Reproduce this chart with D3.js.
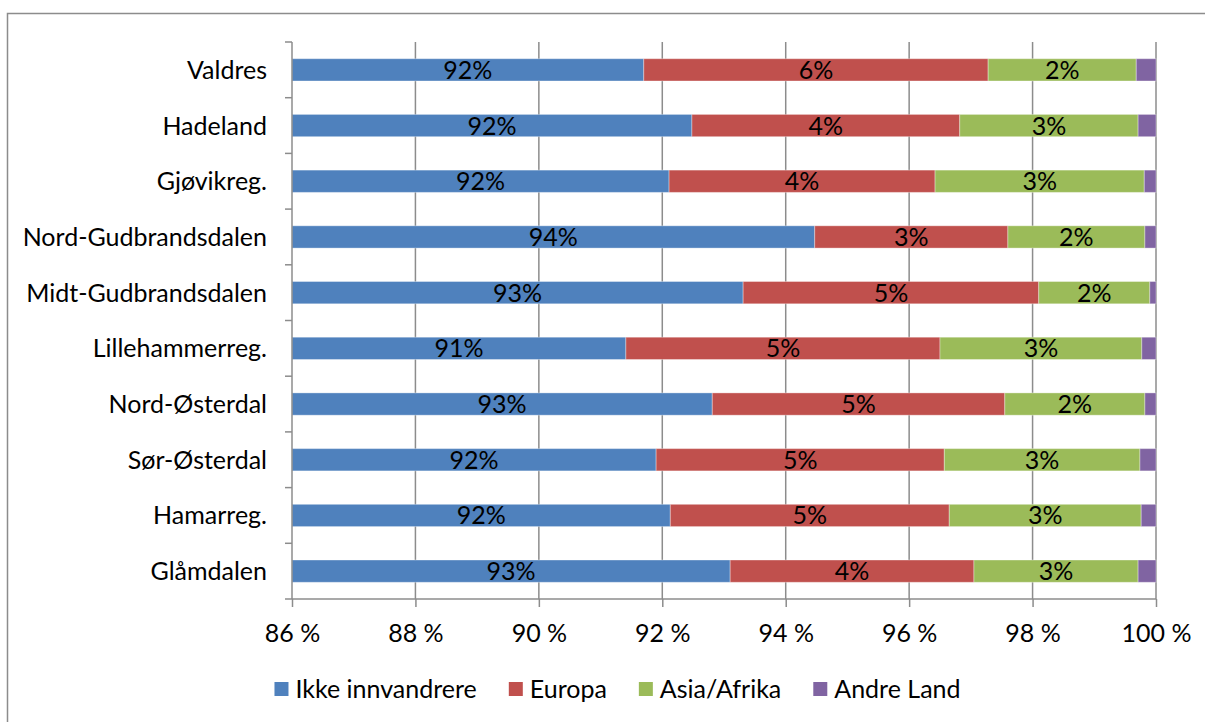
<!DOCTYPE html>
<html>
<head>
<meta charset="utf-8">
<script src="https://cdn.jsdelivr.net/npm/d3@7"></script>
<style>
  body { margin: 0; background: #fff; }
  svg text { font-family: Lato, "Open Sans", sans-serif; font-size: 25px; fill: #000; }
  .grid line { stroke: #8c8c8c; stroke-width: 1.5; }
  .axis path, .axis line { stroke: #8c8c8c; stroke-width: 1.5; }
</style>
</head>
<body>
<svg class="bar-chart-svg" width="1205" height="722"></svg>
<script>
const regions = ['Valdres', 'Hadeland', 'Gjøvikreg.', 'Nord-Gudbrandsdalen', 'Midt-Gudbrandsdalen',
  'Lillehammerreg.', 'Nord-Østerdal', 'Sør-Østerdal', 'Hamarreg.', 'Glåmdalen'];
const seriesNames = ['Ikke innvandrere', 'Europa', 'Asia/Afrika', 'Andre Land'];
const colors = ['#4f81bd', '#c0504d', '#9bbb59', '#8064a2'];

// shares in percent
const ikkeInnvandrere = [91.70, 92.48, 92.11, 94.47, 93.31, 91.41, 92.81, 91.90, 92.13, 93.10];
const europa          = [5.58, 4.34, 4.31, 3.13, 4.79, 5.09, 4.74, 4.67, 4.52, 3.95];
const asiaAfrika      = [2.40, 2.89, 3.39, 2.22, 1.80, 3.27, 2.27, 3.17, 3.11, 2.66];
const andreLand       = [0.32, 0.29, 0.19, 0.18, 0.10, 0.23, 0.18, 0.26, 0.24, 0.29];
const xTicks = [86, 88, 90, 92, 94, 96, 98, 100];

const table = regions.map((r, i) => ({
  region: r,
  'Ikke innvandrere': ikkeInnvandrere[i],
  'Europa': europa[i],
  'Asia/Afrika': asiaAfrika[i],
  'Andre Land': andreLand[i]
}));
const stacked = d3.stack().keys(seriesNames)(table);

const margin = { top: 42, right: 49, bottom: 123, left: 292 };
const width = 1205 - margin.left - margin.right;
const height = 722 - margin.top - margin.bottom;

const svg = d3.select('.bar-chart-svg');

// outer chart border
svg.append('rect')
  .attr('x', 7.5).attr('y', 13.5)
  .attr('width', 1300).attr('height', 800)
  .attr('fill', 'none')
  .attr('stroke', '#8c8c8c')
  .attr('stroke-width', 1.5);

const g = svg.append('g')
  .attr('transform', `translate(${margin.left}, ${margin.top})`);

const xScale = d3.scaleLinear().domain([86, 100]).range([0, width]);
const yScale = d3.scaleBand().domain(regions).range([0, height]).padding(0);
const barH = yScale.bandwidth() / 2.5;

// vertical grid lines
g.append('g')
  .attr('class', 'grid')
  .selectAll('line')
  .data(xTicks.slice(1))
  .enter()
  .append('line')
  .attr('x1', (d) => xScale(d)).attr('x2', (d) => xScale(d))
  .attr('y1', 0).attr('y2', height);

const clampX = (v) => xScale(Math.max(86, v));

// bars
stacked.forEach((layer, k) => {
  g.append('g')
    .selectAll('rect')
    .data(layer)
    .enter()
    .append('rect')
    .attr('x', (d) => clampX(d[0]))
    .attr('width', (d) => clampX(d[1]) - clampX(d[0]))
    .attr('y', (d) => yScale(d.data.region) + (yScale.bandwidth() - barH) / 2)
    .attr('height', barH)
    .attr('fill', colors[k])
    .attr('stroke', 'rgba(255,255,255,0.35)')
    .attr('stroke-width', 1);
});

// data labels (not for the tiny last series)
const pct = d3.format('.0f');
stacked.slice(0, 3).forEach((layer) => {
  g.append('g')
    .selectAll('text')
    .data(layer)
    .enter()
    .append('text')
    .attr('x', (d) => (clampX(d[0]) + clampX(d[1])) / 2)
    .attr('y', (d) => yScale(d.data.region) + yScale.bandwidth() / 2 + 9)
    .attr('text-anchor', 'middle')
    .text((d) => pct(d[1] - d[0]) + '%');
});

// y axis: line and ticks at category boundaries
const yAxis = g.append('g').attr('class', 'axis');
yAxis.append('line')
  .attr('x1', 0).attr('x2', 0).attr('y1', 0).attr('y2', height);
yAxis.selectAll('.tick')
  .data(d3.range(regions.length + 1))
  .enter()
  .append('line')
  .attr('x1', -7).attr('x2', 0)
  .attr('y1', (i) => i * yScale.step()).attr('y2', (i) => i * yScale.step());
yAxis.selectAll('text')
  .data(regions)
  .enter()
  .append('text')
  .attr('x', -25)
  .attr('y', (d) => yScale(d) + yScale.bandwidth() / 2 + 9)
  .attr('text-anchor', 'end')
  .text((d) => d);

// x axis
const xAxis = g.append('g')
  .attr('class', 'axis')
  .attr('transform', `translate(0, ${height})`)
  .call(d3.axisBottom(xScale).tickValues(xTicks).tickSize(8).tickSizeOuter(0)
    .tickFormat((d) => d + ' %'));
xAxis.select('.domain').attr('d', `M0,0H${width}`);
xAxis.selectAll('text')
  .attr('y', 43)
  .attr('dy', 0)
  .style('font-size', '25px')
  .style('font-family', 'Lato, "Open Sans", sans-serif')
  .attr('fill', '#000');

// legend
const legend = svg.append('g');
const gap = 32;
let lx = 0;
seriesNames.forEach((name, k) => {
  const item = legend.append('g').attr('transform', `translate(${lx}, 0)`);
  item.append('rect')
    .attr('x', 0).attr('y', 682)
    .attr('width', 14).attr('height', 14)
    .attr('fill', colors[k]);
  const t = item.append('text')
    .attr('x', 21).attr('y', 698)
    .text(name);
  lx += 21 + t.node().getComputedTextLength() + gap;
});
lx -= gap;
legend.attr('transform', `translate(${617.5 - lx / 2}, 0)`);
</script>
</body>
</html>
